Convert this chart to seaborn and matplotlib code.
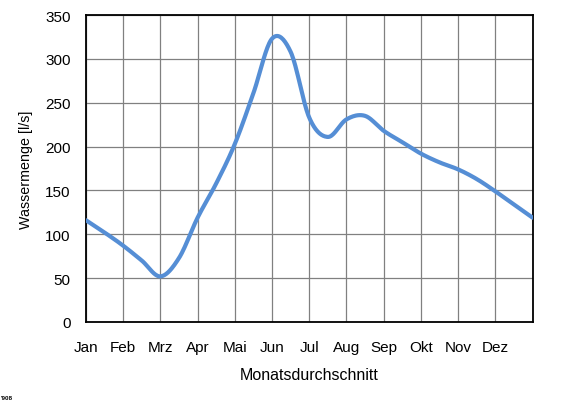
import matplotlib
matplotlib.use("Agg")
import matplotlib.pyplot as plt
import seaborn as sns
import numpy as np
import pandas as pd

# month labels on the x axis
months = ["Jan", "Feb", "Mrz", "Apr", "Mai", "Jun", "Jul", "Aug", "Sep", "Okt", "Nov", "Dez"]
# positions in months (half month steps, 0 = start of Jan, 12 = end of Dez)
pos = [0, 0.5, 1, 1.5, 2, 2.5, 3, 3.5, 4, 4.5, 5, 5.5, 6,
       6.5, 7, 7.5, 8, 8.5, 9, 9.5, 10, 10.5, 11, 11.5, 12]
# water volume in l/s
flow = [116, 102, 87, 70, 52, 73, 119, 158, 203, 261, 323, 308, 233,
        211, 231, 235, 218, 205, 192, 182, 174, 163, 149, 134, 119]


def smooth(x, y, n=20):
    # Catmull-Rom curve through the points (like the smoothed line in Excel)
    x = np.asarray(x, float)
    y = np.asarray(y, float)
    px = np.concatenate([[2 * x[0] - x[1]], x, [2 * x[-1] - x[-2]]])
    py = np.concatenate([[2 * y[0] - y[1]], y, [2 * y[-1] - y[-2]]])
    t = np.linspace(0, 1, n, endpoint=False)
    ox, oy = [], []
    for i in range(1, len(px) - 2):
        for p, o in ((px, ox), (py, oy)):
            p0, p1, p2, p3 = p[i - 1], p[i], p[i + 1], p[i + 2]
            o.extend(0.5 * (2 * p1 + (-p0 + p2) * t
                            + (2 * p0 - 5 * p1 + 4 * p2 - p3) * t ** 2
                            + (-p0 + 3 * p1 - 3 * p2 + p3) * t ** 3))
    ox.append(x[-1])
    oy.append(y[-1])
    return np.array(ox), np.array(oy)


sx, sy = smooth(pos, flow)
df = pd.DataFrame({"pos": sx, "flow": sy})

sns.set_theme(style="white")
plt.rcParams["font.family"] = ["Liberation Sans", "DejaVu Sans"]

fig = plt.figure(figsize=(5.61, 4.02), dpi=100)
ax = fig.add_axes([86 / 561, 79 / 402, 446.5 / 561, 307 / 402])

sns.lineplot(data=df, x="pos", y="flow", sort=False, color="#558ED5",
             linewidth=3, ax=ax, zorder=3)

ax.set_xlim(0, 12)
ax.set_ylim(0, 350)
ax.set_xticks(range(13))
ax.set_xticklabels(months + [""])
ax.set_yticks(range(0, 351, 50))
ax.grid(True, color="#808080", linewidth=0.9)
ax.set_axisbelow(True)
for s in ax.spines.values():
    s.set_color("black")
    s.set_linewidth(1.3)

ax.tick_params(axis="both", length=0, labelsize=11, colors="black")
ax.tick_params(axis="x", pad=13)
ax.tick_params(axis="y", pad=11)
ax.set_xlabel("Monatsdurchschnitt", fontsize=11.5, color="black", labelpad=9)
ax.set_ylabel("Wassermenge [l/s]", fontsize=10.3, color="black", labelpad=8.5)

fig.text(0.002, 0.006, "'908", fontsize=4.5, fontweight="bold", color="black")

fig.savefig("out.png", dpi=100)
